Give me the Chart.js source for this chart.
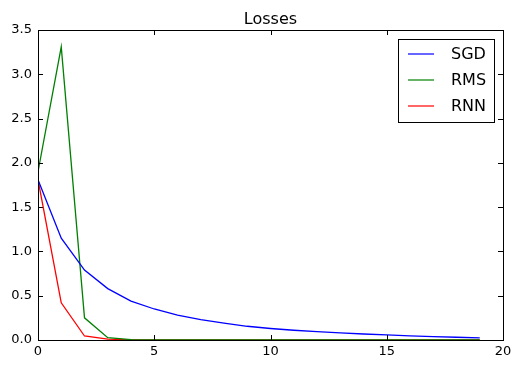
<!DOCTYPE html>
<html>
<head>
<meta charset="utf-8">
<script src="https://cdn.jsdelivr.net/npm/chart.js@4.4.1/dist/chart.umd.min.js"></script>
<style>
  html, body { margin: 0; padding: 0; background: #fff; }
  #wrap { width: 521px; height: 370px; }
</style>
</head>
<body>
<div id="wrap"><canvas id="myChart" width="521" height="370"></canvas></div>
<script>
const epochs = [0,1,2,3,4,5,6,7,8,9,10,11,12,13,14,15,16,17,18,19];
const sgd = [1.81,1.15,0.79,0.58,0.44,0.35,0.28,0.23,0.19,0.155,0.13,0.11,0.095,0.08,0.068,0.057,0.047,0.039,0.031,0.024];
const rms = [1.90,3.31,0.25,0.026,0.005,0,0,0,0,0,0,0,0,0,0,0,0,0,0,0];
const rnn = [1.81,0.42,0.045,0.01,0.002,0,0,0,0,0,0,0,0,0,0,0,0,0,0,0];
const xTicks = [0,5,10,15,20];
const yTicks = [0,0.5,1.0,1.5,2.0,2.5,3.0,3.5];
const titulo = 'Losses';

const font = "'DejaVu Sans', sans-serif";

const toPoints = (arr) => arr.map((v, i) => ({ x: epochs[i], y: v }));

// marco, marcas hacia dentro, título y leyenda estilo matplotlib
const estiloClasico = {
    id: 'estiloClasico',
    afterDraw(chart) {
        const ctx = chart.ctx;
        const a = chart.chartArea;
        const xs = chart.scales.x;
        const ys = chart.scales.y;
        ctx.save();
        ctx.strokeStyle = '#000';
        ctx.lineWidth = 1;
        ctx.strokeRect(a.left + 0.5, a.top + 0.5, a.right - a.left, a.bottom - a.top);
        ctx.beginPath();
        xTicks.forEach(t => {
            const px = Math.round(xs.getPixelForValue(t)) + 0.5;
            ctx.moveTo(px, a.bottom); ctx.lineTo(px, a.bottom - 5);
            ctx.moveTo(px, a.top); ctx.lineTo(px, a.top + 5);
        });
        yTicks.forEach(t => {
            const py = Math.round(ys.getPixelForValue(t)) + 0.5;
            ctx.moveTo(a.left, py); ctx.lineTo(a.left + 5, py);
            ctx.moveTo(a.right, py); ctx.lineTo(a.right - 5, py);
        });
        ctx.stroke();

        // título
        ctx.fillStyle = '#000';
        ctx.font = '16px ' + font;
        ctx.textAlign = 'center';
        ctx.textBaseline = 'alphabetic';
        ctx.fillText(titulo, (a.left + a.right) / 2, a.top - 6);

        // leyenda
        const bx = a.right - 105, by = a.top + 9, bw = 96, bh = 83;
        ctx.fillStyle = '#fff';
        ctx.fillRect(bx, by, bw, bh);
        ctx.strokeRect(bx + 0.5, by + 0.5, bw, bh);
        ctx.font = '16px ' + font;
        ctx.textAlign = 'left';
        ctx.textBaseline = 'middle';
        chart.data.datasets.forEach((ds, i) => {
            const y = by + 15 + i * 26;
            ctx.strokeStyle = ds.borderColor;
            ctx.lineWidth = 1.2;
            ctx.beginPath();
            ctx.moveTo(bx + 10, y); ctx.lineTo(bx + 36, y);
            ctx.stroke();
            ctx.fillStyle = '#000';
            ctx.fillText(ds.label, bx + 53, y + 1);
        });
        ctx.restore();
    }
};

const canvas = document.getElementById('myChart');
const myChart = new Chart(canvas.getContext('2d'), {
    type: 'line',
    data: {
        datasets: [
            { label: 'SGD', data: toPoints(sgd), borderColor: '#0000ff' },
            { label: 'RMS', data: toPoints(rms), borderColor: '#008000' },
            { label: 'RNN', data: toPoints(rnn), borderColor: '#ff0000' }
        ]
    },
    options: {
        responsive: false,
        animation: false,
        devicePixelRatio: 1,
        layout: { padding: { top: 30, right: 18, left: 0, bottom: 0 } },
        elements: {
            point: { radius: 0 },
            line: { borderWidth: 1.3, tension: 0, fill: false }
        },
        plugins: {
            legend: { display: false },
            tooltip: { enabled: false }
        },
        scales: {
            x: {
                type: 'linear',
                min: 0,
                max: 20,
                afterBuildTicks: (s) => { s.ticks = xTicks.map(v => ({ value: v })); },
                afterFit: (s) => { s.height = 30; },
                grid: { display: false, drawTicks: false },
                border: { display: false },
                ticks: {
                    color: '#000',
                    font: { family: font, size: 13 },
                    padding: 4,
                    maxRotation: 0,
                    callback: (v) => String(v)
                }
            },
            y: {
                min: 0,
                max: 3.5,
                afterBuildTicks: (s) => { s.ticks = yTicks.map(v => ({ value: v })); },
                afterFit: (s) => { s.width = 38; },
                grid: { display: false, drawTicks: false },
                border: { display: false },
                ticks: {
                    color: '#000',
                    font: { family: font, size: 13 },
                    padding: 6,
                    callback: (v) => v.toFixed(1)
                }
            }
        }
    },
    plugins: [estiloClasico]
});
</script>
</body>
</html>
